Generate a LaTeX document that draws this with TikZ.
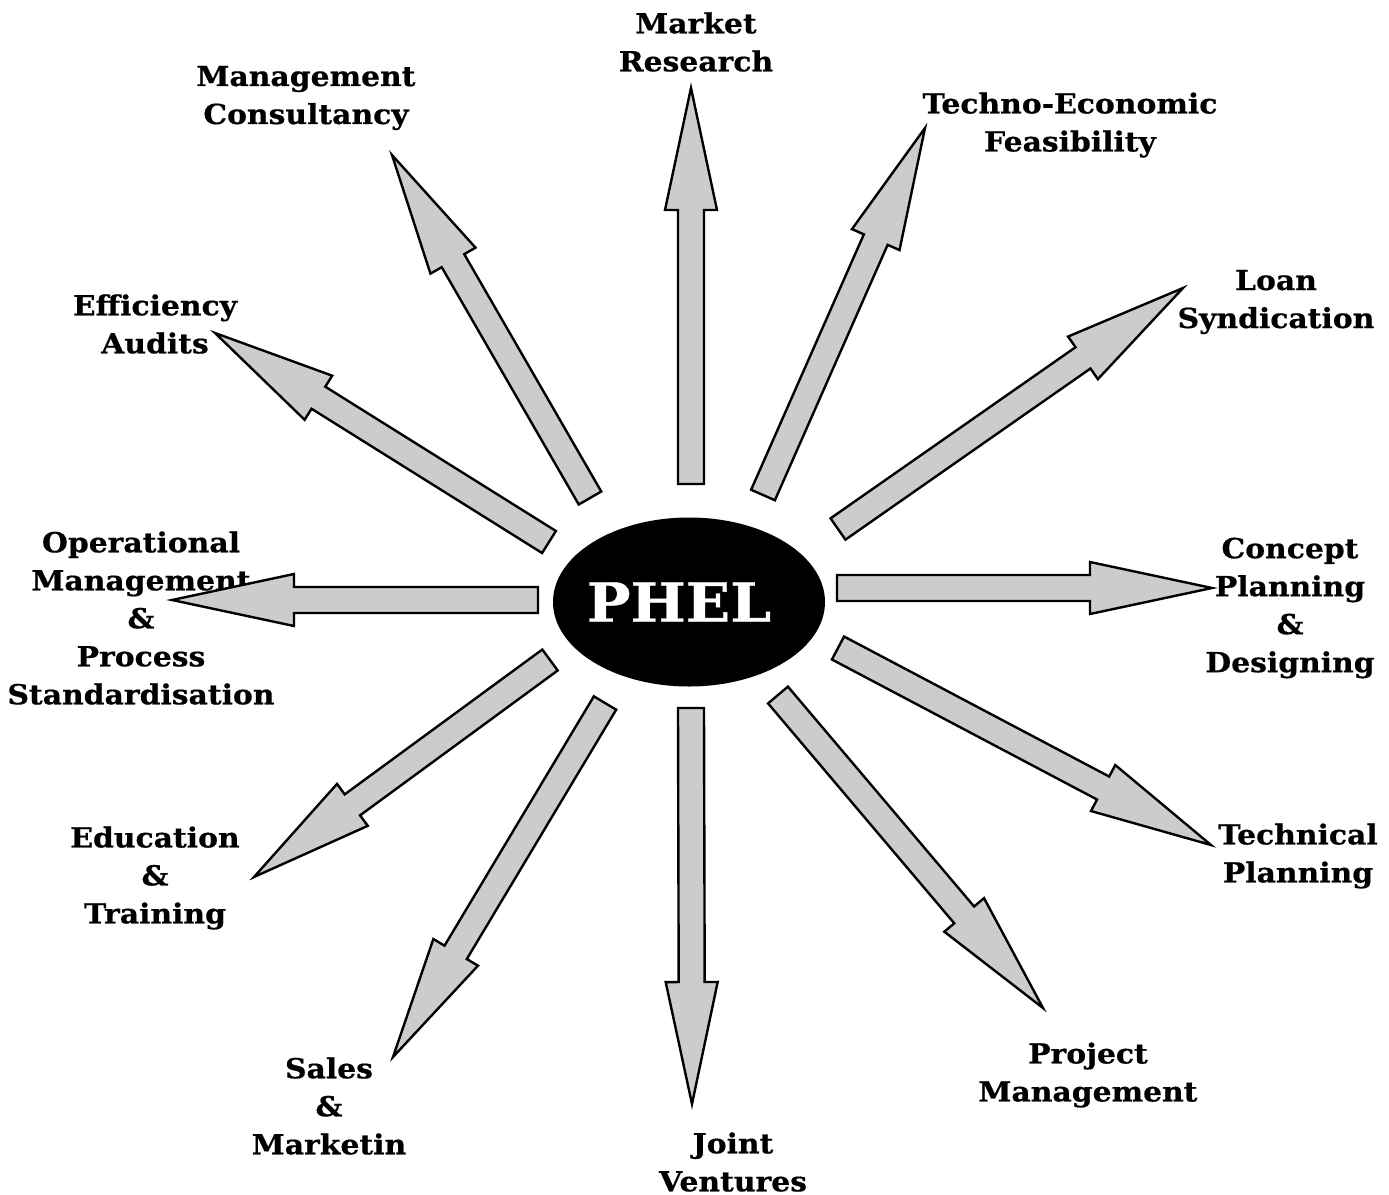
\documentclass[tikz,border=0pt]{standalone}
\usepackage{fontspec}
\setmainfont[FakeStretch=1.08,BoldFeatures={FakeBold=0.6}]{DejaVu Serif}
\usetikzlibrary{shapes.geometric,calc}

\definecolor{arrgray}{RGB}{204,204,204}

% block arrow from base coordinate #1 to tip coordinate #2
\newcommand{\blockarrow}[2]{%
	\coordinate (hb) at ($(#2)!61pt!(#1)$);
	\draw[Arr] ($(#1)!6.5pt!90:(#2)$) -- ($(hb)!6.5pt!90:(#2)$) -- ($(hb)!13pt!90:(#2)$)
	-- (#2) -- ($(hb)!13pt!-90:(#2)$) -- ($(hb)!6.5pt!-90:(#2)$) -- ($(#1)!6.5pt!-90:(#2)$) -- cycle;
}

\begin{document}
\begin{tikzpicture}[
			x=0.5pt, y=-0.5pt,
			Hub/.style={ellipse, fill=black, minimum width=136pt, minimum height=84.5pt,
				inner sep=0pt, text=white, font=\fontsize{27}{34}\selectfont\bfseries},
			Lbl/.style={align=center, inner sep=0pt,
				font=\fontsize{13.8}{19}\selectfont\bfseries},
			Arr/.style={draw=black, fill=arrgray, line width=1.2pt, line join=miter},
			]
			\useasboundingbox (0,0) rectangle (1389,1195);
			
			\node [Hub] (phel) at (689,602) {\kern-5pt\makebox[0pt]{PHEL}\kern5pt};
			
			\node [Lbl] (mr) at (696,42) {Market\\Research};
			\node [Lbl] (tef) at (1070,125) {Techno-Economic\\Feasibility};
			\node [Lbl] (ls) at (1276,302) {Loan\\Syndication};
			\node [Lbl] (cpd) at (1290,608) {Concept\\Planning\\\&\\Designing};
			\node [Lbl] (tp) at (1298,856) {Technical\\Planning};
			\node [Lbl] (pm) at (1088,1075) {Project\\Management};
			\node [Lbl] (jv) at (733,1162) {Joint\\Ventures};
			\node [Lbl] (sm) at (329,1106) {Sales\\\&\\Marketin};
			\node [Lbl] (et) at (155,878) {Education\\\&\\Training};
			\node [Lbl] (opm) at (141,618) {Operational\\Management\\\&\\Process\\Standardisation};
			\node [Lbl] (ea) at (155,324) {Efficiency\\Audits};
			\node [Lbl] (mc) at (306,98) {Management\\Consultancy};
			
			\coordinate (b1) at (691,484);  \coordinate (t1) at (691,88);
			\coordinate (b2) at (763,495);  \coordinate (t2) at (925,128);
			\coordinate (b3) at (838,529);  \coordinate (t3) at (1183,288);
			\coordinate (b4) at (837,588);  \coordinate (t4) at (1212,588);
			\coordinate (b5) at (838,648);  \coordinate (t5) at (1211,845);
			\coordinate (b6) at (778,695);  \coordinate (t6) at (1043,1008);
			\coordinate (b7) at (691,708);  \coordinate (t7) at (692,1104);
			\coordinate (b8) at (605,703);  \coordinate (t8) at (393,1057);
			\coordinate (b9) at (550,660);  \coordinate (t9) at (254,877);
			\coordinate (b10) at (538,600); \coordinate (t10) at (172,600);
			\coordinate (b11) at (549,542); \coordinate (t11) at (215,333);
			\coordinate (b12) at (590,498); \coordinate (t12) at (392,155);
			
			\blockarrow{b1}{t1}
			\blockarrow{b2}{t2}
			\blockarrow{b3}{t3}
			\blockarrow{b4}{t4}
			\blockarrow{b5}{t5}
			\blockarrow{b6}{t6}
			\blockarrow{b7}{t7}
			\blockarrow{b8}{t8}
			\blockarrow{b9}{t9}
			\blockarrow{b10}{t10}
			\blockarrow{b11}{t11}
			\blockarrow{b12}{t12}
		\end{tikzpicture}
\end{document}
